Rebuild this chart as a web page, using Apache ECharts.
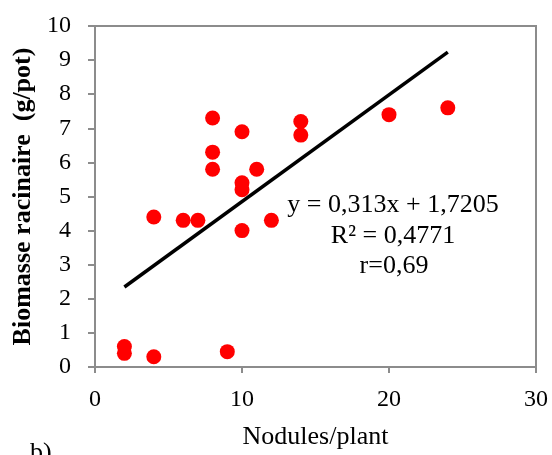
<!DOCTYPE html>
<html><head><meta charset="utf-8">
<script src="https://cdn.jsdelivr.net/npm/echarts@6/dist/echarts.min.js"></script>
<style>html,body{margin:0;padding:0;background:#fff}#c{width:552px;height:455px}</style>
</head><body><div id="c"></div>
<script>
var nodules = [2, 2, 4, 9, 4, 6, 7, 8, 8, 8, 10, 10, 10, 11, 10, 12, 14, 14, 20, 24];
var biomass = [0.6, 0.4, 0.3, 0.45, 4.4, 4.3, 4.3, 7.3, 6.3, 5.8, 6.9, 5.4, 5.2, 5.8, 4.0, 4.3, 7.2, 6.8, 7.4, 7.6];
var trendSlope = 0.313, trendIntercept = 1.7205;
var trendRange = [2, 24];
var xTicks = [0, 10, 20, 30];
var yTicks = [0, 1, 2, 3, 4, 5, 6, 7, 8, 9, 10];
var labels = ['y = 0,313x + 1,7205', 'R² = 0,4771', 'r=0,69'];

var font = '"Liberation Serif", "Times New Roman", serif';
var pts = nodules.map(function (x, i) { return [x, biomass[i]]; });
var trend = trendRange.map(function (x) { return [x, trendSlope * x + trendIntercept]; });
var chart = echarts.init(document.getElementById('c'), null, {renderer: 'canvas'});
var axisGray = '#8c8c8c';
chart.setOption({
  animation: false,
  grid: {left: 95, right: 16, top: 26, bottom: 85, show: true, borderColor: axisGray, borderWidth: 2, containLabel: false},
  xAxis: {
    type: 'value', min: xTicks[0], max: xTicks[xTicks.length - 1], interval: 10,
    name: 'Nodules/plant', nameLocation: 'middle', nameGap: 57,
    nameTextStyle: {fontFamily: font, fontSize: 26, color: '#000'},
    axisLine: {lineStyle: {color: axisGray, width: 2}},
    axisTick: {show: true, length: 6, lineStyle: {color: axisGray, width: 2}},
    axisLabel: {fontFamily: font, fontSize: 24, color: '#000', margin: 21},
    splitLine: {show: false}
  },
  yAxis: {
    type: 'value', min: yTicks[0], max: yTicks[yTicks.length - 1], interval: 1,
    name: 'Biomasse racinaire  (g/pot)', nameLocation: 'middle', nameGap: 57,
    nameTextStyle: {fontFamily: font, fontSize: 26, fontWeight: 'bold', color: '#000'},
    axisLine: {lineStyle: {color: axisGray, width: 2}},
    axisTick: {show: true, length: 7, lineStyle: {color: axisGray, width: 2}},
    axisLabel: {fontFamily: font, fontSize: 24, color: '#000', margin: 24},
    splitLine: {show: false}
  },
  series: [
    {type: 'scatter', data: pts, symbol: 'circle', symbolSize: 15, itemStyle: {color: '#ff0000', opacity: 1}, z: 3},
    {type: 'line', data: trend, symbol: 'none', lineStyle: {color: '#000', width: 3.5}, z: 4}
  ],
  graphic: [
    {type: 'text', x: 393, y: 205, style: {text: labels[0], font: '26px ' + font, fill: '#000', textAlign: 'center', textVerticalAlign: 'middle'}},
    {type: 'text', x: 393, y: 236, style: {text: labels[1], font: '26px ' + font, fill: '#000', textAlign: 'center', textVerticalAlign: 'middle'}},
    {type: 'text', x: 394, y: 266, style: {text: labels[2], font: '26px ' + font, fill: '#000', textAlign: 'center', textVerticalAlign: 'middle'}},
    {type: 'text', x: 30, y: 440, style: {text: 'b)', font: '26px ' + font, fill: '#000'}}
  ]
});
</script></body></html>
